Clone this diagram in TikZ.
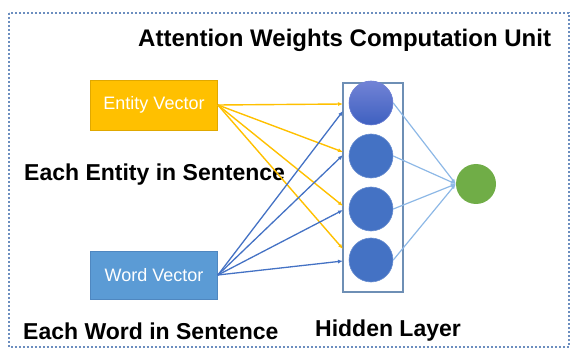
\documentclass[tikz,border=0pt]{standalone}
\usepackage{fontspec}
\setmainfont{Liberation Sans}
\usetikzlibrary{arrows.meta}
\definecolor{gold}{HTML}{FFC000}
\definecolor{goldedge}{HTML}{E0A800}
\definecolor{wblue}{HTML}{5B9BD5}
\definecolor{wedge}{HTML}{4F87C0}
\definecolor{nblue}{HTML}{4472C4}
\definecolor{lblue}{HTML}{8DB8E6}
\definecolor{frameblue}{HTML}{6E8FB5}
\definecolor{dotblue}{HTML}{6C8EBF}
\definecolor{ngreen}{HTML}{70AD47}
\definecolor{topA}{HTML}{7283D6}
\definecolor{topB}{HTML}{3E60C0}
\tikzset{
  vecbox/.style={rectangle, minimum width=127pt, minimum height=50pt, text=white, font=\fontsize{18}{20}\selectfont, line width=0.8pt},
  boldlabel/.style={font=\fontsize{23}{26}\selectfont\bfseries, text=black, inner sep=0pt},
  hid/.style={circle, minimum size=44pt, inner sep=0pt, fill=nblue, draw=nblue!80!white, line width=0.6pt},
  outn/.style={circle, minimum size=40pt, inner sep=0pt, fill=ngreen},
  yarrow/.style={draw=gold, line width=1.4pt, -{Latex[length=5pt,width=4pt]}},
  barrow/.style={draw=nblue, line width=1.3pt, -{Latex[length=5pt,width=4pt]}},
  larrow/.style={draw=lblue, line width=1.2pt, -{Latex[length=5pt,width=4pt]}},
}
\begin{document}
\begin{tikzpicture}[x=1pt,y=-1pt]
\useasboundingbox (0,0) rectangle (571,350);
\draw[dotblue, line width=1.6pt, dash pattern=on 1.6pt off 2.4pt] (9,13) rectangle (569,347);

\node[boldlabel, anchor=west, font=\fontsize{24}{27}\selectfont\bfseries] (title) at (138,40) {Attention Weights Computation Unit};
\node[boldlabel, anchor=west] (entl) at (24,175) {Each Entity in Sentence};
\node[boldlabel, anchor=west] (wordl) at (23,331) {Each Word in Sentence};
\node[boldlabel] (hidl) at (388,331) {Hidden Layer};

\node[vecbox, fill=gold, draw=goldedge] (ev) at (154,105) {Entity Vector};
\node[vecbox, fill=wblue, draw=wedge, minimum height=48pt] (wv) at (154,275) {Word Vector};

\node[draw=frameblue, line width=1.2pt, minimum width=60pt, minimum height=209pt, inner sep=0pt] (hl) at (373,187.5) {};

\coordinate (y1) at (343,104);
\coordinate (y2) at (343,152);
\coordinate (y3) at (343,206);
\coordinate (y4) at (343,249);
\coordinate (b1) at (343,111);
\coordinate (b2) at (343,155);
\coordinate (b3) at (343,210);
\coordinate (b4) at (343,261);

\foreach \i in {1,2,3,4} {\draw[yarrow] (ev.east) -- (y\i);}
\foreach \i in {1,2,3,4} {\draw[barrow] (wv.east) -- (b\i);}

\node[hid, top color=topA, bottom color=topB, draw=topA] (h1) at (371,103) {};
\node[hid] (h2) at (371,156) {};
\node[hid] (h3) at (371,209) {};
\node[hid] (h4) at (371,260) {};
\node[outn] (o) at (476,184) {};

\foreach \i in {1,2,3,4} {\draw[larrow] (h\i.east) -- (o.west);}
\end{tikzpicture}
\end{document}
